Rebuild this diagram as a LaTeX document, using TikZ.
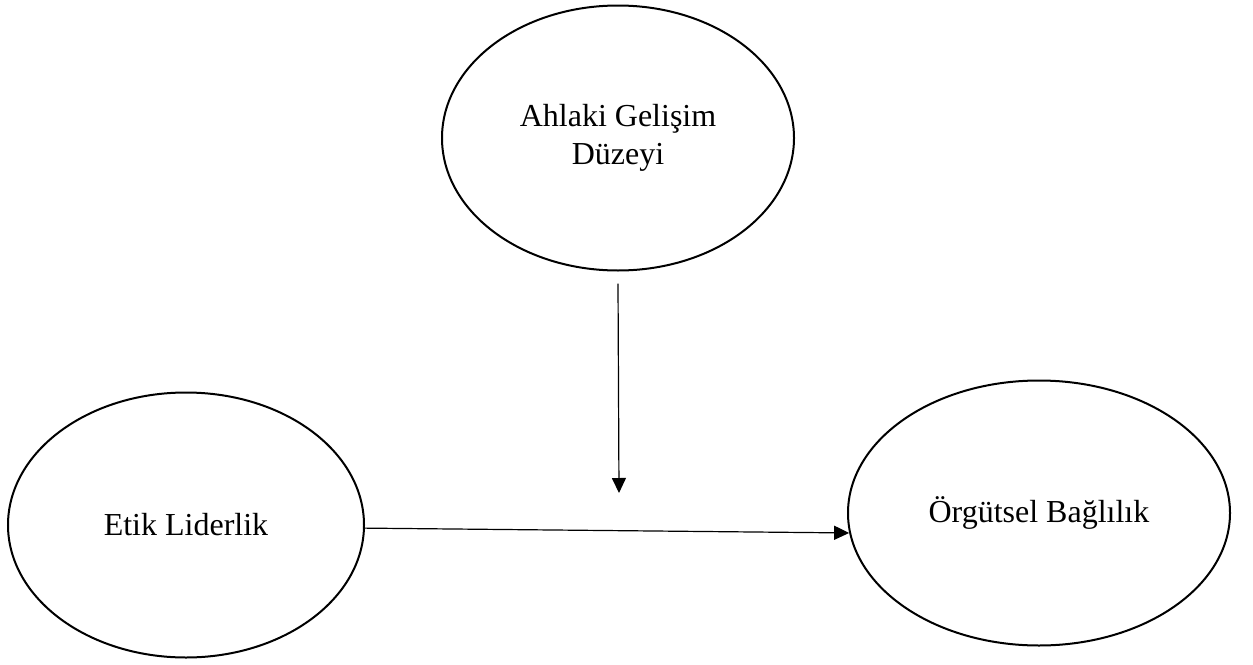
\documentclass[tikz,border=0pt]{standalone}
\usepackage{fontspec}
\setmainfont{Liberation Serif}
\usetikzlibrary{shapes.geometric,arrows.meta}

\begin{document}
\begin{tikzpicture}[x=0.5pt,y=-0.5pt,
  >={Triangle[length=7.5pt,width=7pt]},
  var/.style={ellipse,draw,line width=1pt,inner sep=0pt,align=center,
              minimum height=132.5pt,font=\fontsize{16}{19}\selectfont},
  link/.style={->,line width=0.6pt},
  ]
  \useasboundingbox (0,0) rectangle (1253,664);
  % ---- variables ----
  \node[var,minimum width=176pt] (ahlak) at (618,138) {Ahlaki Gelişim\\Düzeyi};
  \node[var,minimum width=178pt] (etik)  at (186,525) {Etik Liderlik};
  \node[var,minimum width=191pt] (orgut) at (1039,513) {Örgütsel Bağlılık};
  \coordinate (mod) at (619,493);

  % moderator and main effect
  \draw[link] ([yshift=-6pt]ahlak.south) -- (mod);
  \draw[link] (etik.-1) -- (orgut.-174);
\end{tikzpicture}
\end{document}
